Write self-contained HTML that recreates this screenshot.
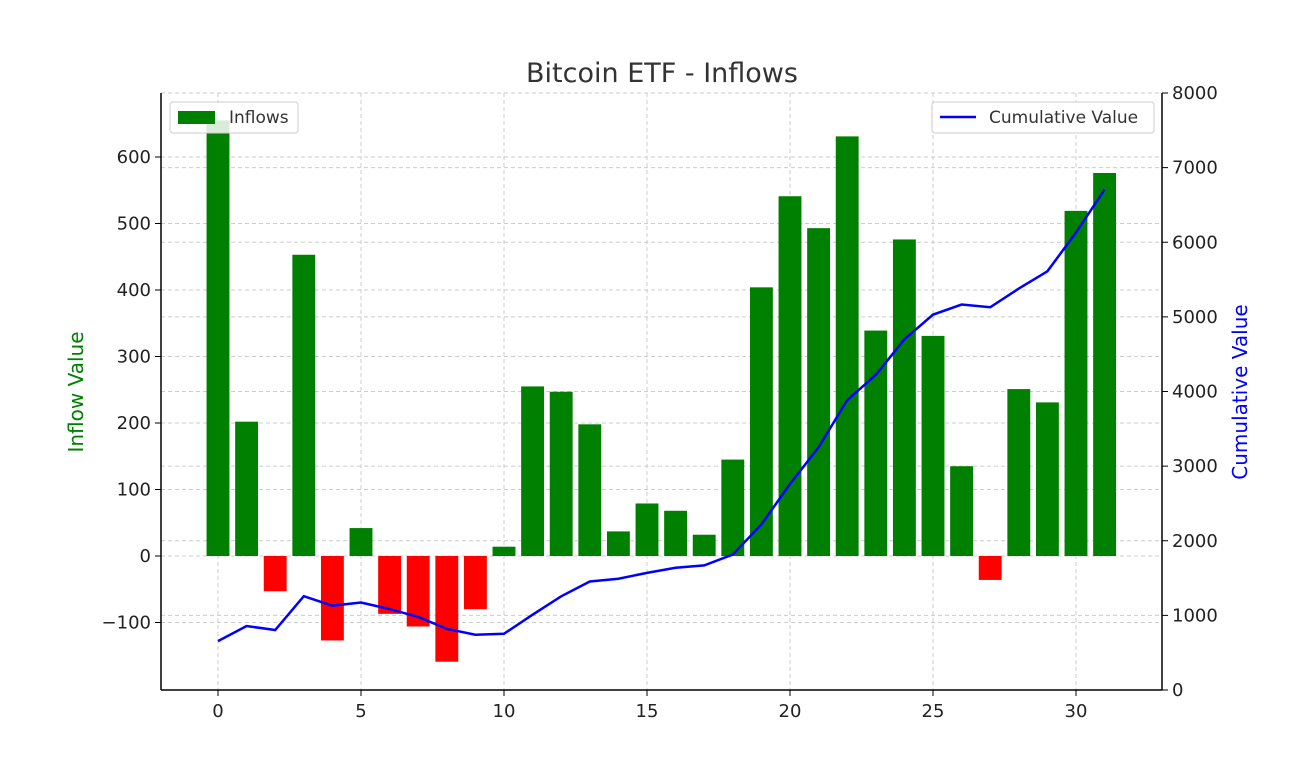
<!DOCTYPE html>
<html><head><meta charset="utf-8">
<style>
body{margin:0;background:#fff;}
svg{display:block;font-family:"DejaVu Sans","Liberation Sans",sans-serif;}
</style></head>
<body>
<svg id="chart" width="1292" height="775" xmlns="http://www.w3.org/2000/svg">
<rect width="1292" height="775" fill="#fff"/>
<text x="662" y="82" font-size="27" text-anchor="middle" fill="#333">Bitcoin ETF - Inflows</text>
<g id="grid"></g>
<g id="bars"></g>
<g id="line"></g>
<g id="axes"></g>
<text transform="translate(83,392) rotate(-90)" font-size="20" text-anchor="middle" fill="green">Inflow Value</text>
<text transform="translate(1247,392) rotate(-90)" font-size="20" text-anchor="middle" fill="blue">Cumulative Value</text>
<g>
<rect x="170" y="102" width="128" height="31" rx="3" fill="#fff" fill-opacity="0.85" stroke="#ccc"/>
<rect x="178" y="111" width="37" height="13" fill="green"/>
<text x="229" y="123" font-size="17" fill="#333">Inflows</text>
</g>
<g>
<rect x="932" y="102" width="222" height="31" rx="3" fill="#fff" fill-opacity="0.85" stroke="#ccc"/>
<line x1="940" y1="117" x2="976" y2="117" stroke="blue" stroke-width="2.5"/>
<text x="989" y="123" font-size="17" fill="#333">Cumulative Value</text>
</g>
</svg>
<script>
const days=[0,1,2,3,4,5,6,7,8,9,10,11,12,13,14,15,16,17,18,19,20,21,22,23,24,25,26,27,28,29,30,31];
const inflows=[655,202,-53,453,-127,42,-87,-106,-159,-80,14,255,247,198,37,79,68,32,145,404,541,493,631,339,476,331,135,-36,251,231,519,576];
const cumulative=[655,857,804,1257,1130,1172,1085,979,820,740,754,1009,1256,1454,1491,1570,1638,1670,1815,2219,2760,3253,3884,4223,4699,5030,5165,5129,5380,5611,6130,6706];
const xTicks=[0,5,10,15,20,25,30];
const leftTicks=[-100,0,100,200,300,400,500,600];
const rightTicks=[0,1000,2000,3000,4000,5000,6000,7000,8000];

const L=161,R=1162,T=93,B=690;
const xs=v=>218+v*(1076-218)/30;
const yl=v=>556-v*0.665;
const yr=v=>690-v*(690-93)/8000;
const NS="http://www.w3.org/2000/svg";
function mk(tag,parent,attrs){const e=document.createElementNS(NS,tag);for(const k in attrs)e.setAttribute(k,attrs[k]);parent.appendChild(e);return e;}
const grid=document.getElementById('grid'),bars=document.getElementById('bars'),line=document.getElementById('line'),axes=document.getElementById('axes');

xTicks.forEach(t=>{
 const g=mk('line',grid,{x1:xs(t),x2:xs(t),y1:T,y2:B,stroke:'#ccc','stroke-dasharray':'4,3'});
 
 
 mk('line',axes,{x1:xs(t),x2:xs(t),y1:B,y2:B+6,stroke:'#000'});
 const tx=mk('text',axes,{x:xs(t),y:B+27,'font-size':18,'text-anchor':'middle',fill:'#222'});
 tx.textContent=t;
 
 
});
leftTicks.forEach(t=>{
 const g=mk('line',grid,{x1:L,x2:R,y1:yl(t),y2:yl(t),stroke:'#ccc','stroke-dasharray':'4,3'});
 
 
 mk('line',axes,{x1:L-6,x2:L,y1:yl(t),y2:yl(t),stroke:'#000'});
 const tx=mk('text',axes,{x:L-10,y:yl(t)+6,'font-size':18,'text-anchor':'end',fill:'#222'});
 tx.textContent=t<0?'\u2212'+(-t):t;
 
 
});
rightTicks.forEach(t=>{
 const g=mk('line',grid,{x1:L,x2:R,y1:yr(t),y2:yr(t),stroke:'#ccc','stroke-dasharray':'4,3'});
 
 
 mk('line',axes,{x1:R,x2:R+6,y1:yr(t),y2:yr(t),stroke:'#000'});
 const tx=mk('text',axes,{x:R+10,y:yr(t)+6,'font-size':18,'text-anchor':'start',fill:'#222'});
 tx.textContent=t;
 
 
});
const bw=0.8*(1076-218)/30;
days.forEach((d,i)=>{
 const v=inflows[i];
 const y0=yl(0),y1=yl(v);
 const b=mk('rect',bars,{x:xs(d)-bw/2,y:Math.min(y0,y1),width:bw,height:Math.abs(y1-y0),fill:v>=0?'green':'red'});
 
 
});
const p=mk('polyline',line,{points:days.map((d,i)=>xs(d)+','+yr(cumulative[i])).join(' '),fill:'none',stroke:'blue','stroke-width':2.5});


mk('line',axes,{x1:L,x2:L,y1:T,y2:B,stroke:'#000','stroke-width':1.5});
mk('line',axes,{x1:R,x2:R,y1:T,y2:B,stroke:'#000','stroke-width':1.5});
mk('line',axes,{x1:L,x2:R,y1:B,y2:B,stroke:'#000','stroke-width':1.5});
</script>
</body></html>
